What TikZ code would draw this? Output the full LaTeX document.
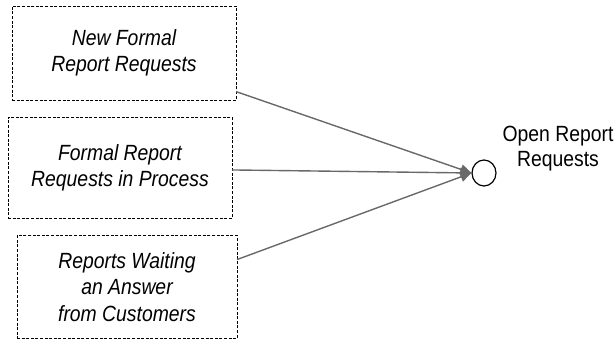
\documentclass[tikz,border=0pt]{standalone}
\usepackage{fontspec}
\setmainfont[FakeStretch=0.88]{Liberation Sans}
\usetikzlibrary{arrows.meta,shapes.geometric}
\definecolor{flowgray}{RGB}{105,105,105}
\tikzset{
  stockbox/.style={draw=black, line width=0.9pt, dash pattern=on 3pt off 1.6pt,
    inner sep=0pt, outer sep=0pt, align=center,
    font=\fontsize{22}{26.5}\selectfont\itshape},
  sinkcircle/.style={draw=black, line width=1.2pt, ellipse, inner sep=0pt,
    minimum width=24pt, minimum height=26pt},
  flowline/.style={draw=flowgray, line width=1.4pt,
    -{Triangle[length=11pt,width=10pt]}, shorten >=0pt},
  plainlabel/.style={align=center, inner sep=0pt,
    font=\fontsize{22}{25}\selectfont}
}
\begin{document}
\begin{tikzpicture}[x=1pt,y=1pt]
  \useasboundingbox (0,0) rectangle (616,340);
  % source stocks
  \node[stockbox, minimum width=224pt, minimum height=94pt] (b1) at (124,287)
    {New Formal\\Report Requests};
  \node[stockbox, minimum width=224pt, minimum height=101pt] (b2) at (120,172)
    {Formal Report\\Requests in Process};
  \node[stockbox, minimum width=220pt, minimum height=103pt] (b3) at (127,53)
    {Reports Waiting\\an Answer\\from Customers};
  % aggregate
  \node[sinkcircle] (c) at (484,167) {};
  \node[plainlabel, anchor=base] (lbl) at (558,173) {Open Report\\Requests};
  % flows into the aggregate
  \draw[flowline] (b1.-19.2) -- (c.west);
  \draw[flowline] (b2.-1) -- (c.west);
  \draw[flowline] (b3.14.5) -- (c.west);
\end{tikzpicture}
\end{document}
